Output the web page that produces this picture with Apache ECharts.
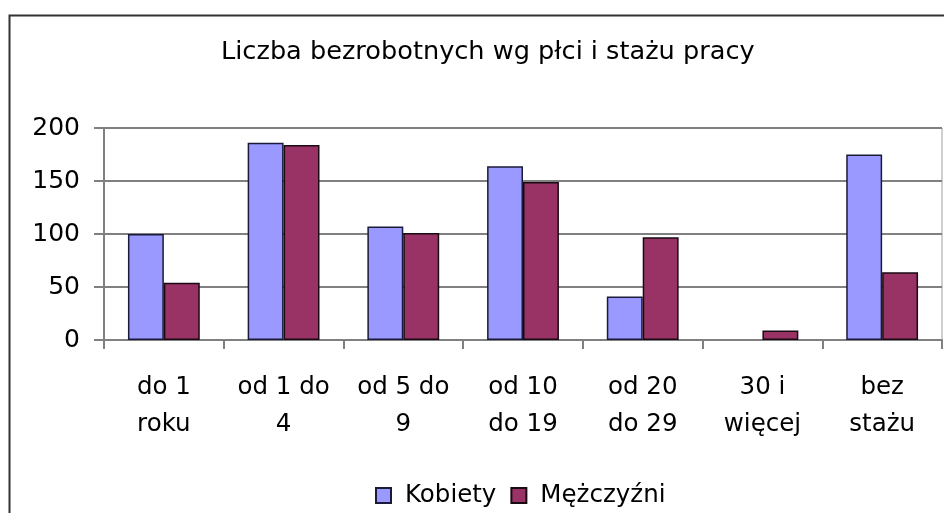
<!DOCTYPE html>
<html>
<head>
<meta charset="utf-8">
<script src="https://cdn.jsdelivr.net/npm/echarts@6/dist/echarts.min.js"></script>
<style>
  html, body { margin: 0; padding: 0; background: #fff; }
  #main { width: 944px; height: 513px; }
</style>
</head>
<body>
<div id="main"></div>
<script>
// dane wykresu
var titleText = 'Liczba bezrobotnych wg płci i stażu pracy';
var categories = ['do 1\nroku', 'od 1 do\n4', 'od 5 do\n9', 'od 10\ndo 19', 'od 20\ndo 29', '30 i\nwięcej', 'bez\nstażu'];
var kobiety = [100, 186, 107, 164, 41, null, 175];
var mezczyzni = [54, 184, 101, 149, 97, 9, 64];
var seriesNames = ['Kobiety', 'Mężczyźni'];

var font = 'Tahoma, "DejaVu Sans", sans-serif';

var myChart = echarts.init(document.getElementById('main'));

var option = {
    animation: false,
    backgroundColor: '#fff',
    // ramka wokół wykresu
    graphic: [{
        type: 'rect',
        left: 7, top: 13,
        shape: { width: 1000, height: 600 },
        style: { fill: 'none', stroke: '#333', lineWidth: 2 },
        z: -1
    }],
    title: {
        text: titleText,
        left: 216,
        top: 34,
        textStyle: { fontFamily: font, fontSize: 25.6, fontWeight: 'normal', color: '#000' }
    },
    legend: {
        data: seriesNames,
        bottom: 0,
        left: 370,
        itemWidth: 15,
        itemHeight: 15,
        itemGap: 14,
        icon: 'rect',
        textStyle: { fontFamily: font, fontSize: 24.5, color: '#000', padding: [0, 0, 0, 9] }
    },
    grid: {
        left: 104, right: 2, top: 128, bottom: 173,
        show: true, borderColor: '#a0a0a0', borderWidth: 1
    },
    xAxis: {
        type: 'category',
        data: categories,
        axisLine: { lineStyle: { color: '#808080', width: 2 } },
        axisTick: { show: true, length: 9, lineStyle: { color: '#808080', width: 2 } },
        axisLabel: { fontFamily: font, fontSize: 24.5, color: '#000', lineHeight: 37, margin: 29, interval: 0 }
    },
    yAxis: {
        type: 'value',
        min: 0, max: 200, interval: 50,
        axisLine: { show: true, lineStyle: { color: '#808080', width: 2 } },
        axisTick: { show: true, length: 10, lineStyle: { color: '#808080', width: 2 } },
        splitLine: { lineStyle: { color: '#808080', width: 2 } },
        axisLabel: { fontFamily: font, fontSize: 25, color: '#000', margin: 24, padding: [8, 0, 0, 0] }
    },
    series: [{
        name: seriesNames[0],
        type: 'bar',
        data: kobiety,
        barGap: '0%',
        barCategoryGap: '40%',
        itemStyle: { color: '#9999FF', borderColor: '#1a1a3a', borderWidth: 1.5 }
    }, {
        name: seriesNames[1],
        type: 'bar',
        data: mezczyzni,
        barGap: '0%',
        barCategoryGap: '40%',
        itemStyle: { color: '#993366', borderColor: '#1a0a12', borderWidth: 1.5 }
    }]
};

myChart.setOption(option);
</script>
</body>
</html>
